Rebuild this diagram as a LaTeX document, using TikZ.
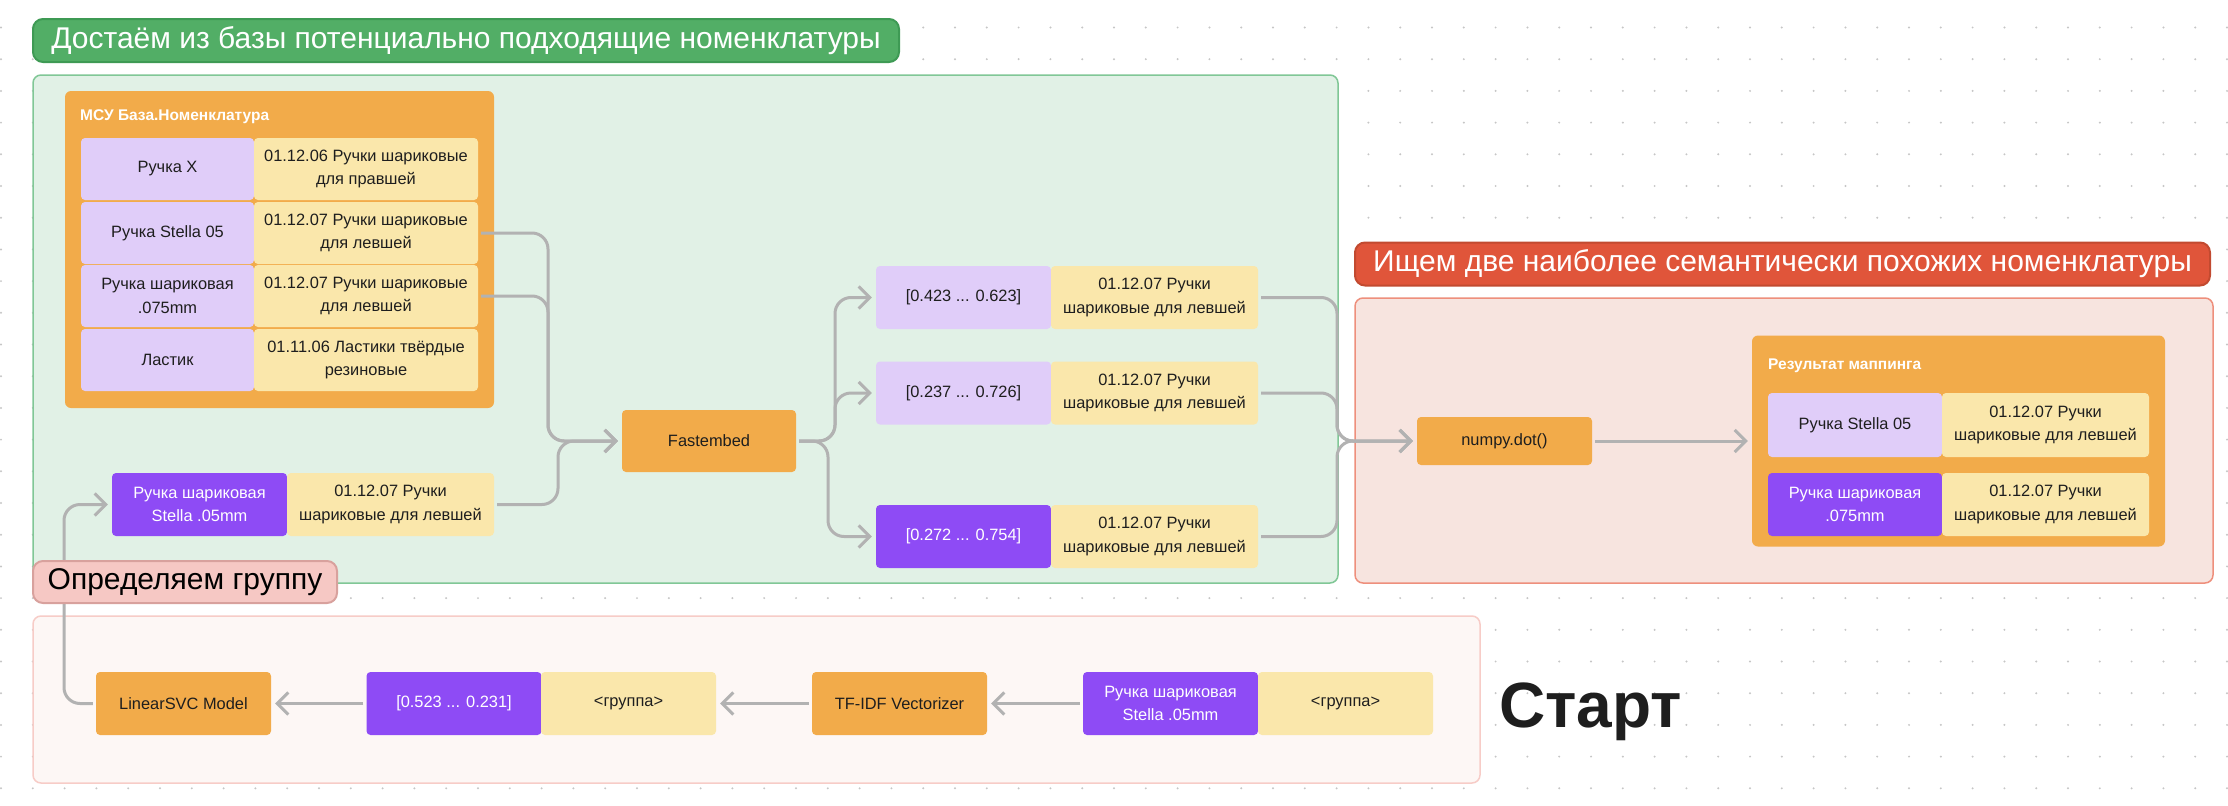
\documentclass[tikz,border=0pt]{standalone}
\usepackage{fontspec}
\setmainfont{Liberation Sans}
\usetikzlibrary{arrows.meta}

\definecolor{ora}{HTML}{F2AB4A}
\definecolor{lil}{HTML}{E0CDF9}
\definecolor{yel}{HTML}{FAE7AB}
\definecolor{pur}{HTML}{8E4BF5}
\definecolor{grn}{HTML}{52AE66}
\definecolor{grnd}{HTML}{3E9A54}
\definecolor{grnbg}{HTML}{E1F1E6}
\definecolor{grnln}{HTML}{80C796}
\definecolor{rd}{HTML}{E0553A}
\definecolor{rdd}{HTML}{C24A30}
\definecolor{rdbg}{HTML}{F7E4DF}
\definecolor{rdln}{HTML}{EE8F7C}
\definecolor{pnk}{HTML}{F6C8C4}
\definecolor{pnkd}{HTML}{D8A19D}
\definecolor{botbg}{HTML}{FDF7F5}
\definecolor{botln}{HTML}{F7CCC7}
\definecolor{arr}{HTML}{B2B2B2}
\definecolor{ink}{HTML}{1E1E1E}

\begin{document}
\begin{tikzpicture}[x=1pt,y=-1pt,
  every node/.style={font=\fontsize{16.4}{23.5}\selectfont, text=ink, inner sep=0pt, align=center},
  cell/.style={minimum width=175pt, minimum height=63pt, rounded corners=4pt},
  lilbox/.style={cell, fill=lil},
  yelbox/.style={cell, fill=yel},
  purbox/.style={cell, fill=pur, text=white},
  orabox/.style={cell, fill=ora},
  box/.style={fill=ora, rounded corners=6pt},
  banner/.style={rounded corners=10pt, line width=2pt, text=white, minimum height=43pt,
    font=\fontsize{30}{36}\selectfont},
  title/.style={anchor=west, text=white, font=\bfseries\fontsize{15.5}{18}\selectfont},
  flow/.style={draw=arr, line width=3pt, rounded corners=16pt, shorten <=3pt, shorten >=4pt,
    -{Straight Barb[length=11pt,width=22pt]}},
]
\useasboundingbox (0,0) rectangle (2228,806);
\fill[white] (0,0) rectangle (2228,806);
\foreach \i in {0,...,70}
  \foreach \j in {0,...,24}
    \fill[gray!45] (1+31.8*\i,27.5+31.7*\j) circle (1.1pt);

% areas
\draw[fill=grnbg, draw=grnln, line width=1.5pt, rounded corners=8pt] (33,75) rectangle (1338,583);
\draw[fill=rdbg, draw=rdln, line width=1.5pt, rounded corners=8pt] (1355,298) rectangle (2213,583);
\draw[fill=botbg, draw=botln, line width=1.5pt, rounded corners=8pt] (33,616) rectangle (1480,783);

\node[banner, fill=grn, draw=grnd, minimum width=866pt] (gt) at (466,40.5) {Достаём из базы потенциально подходящие номенклатуры};
\node[banner, fill=rd, draw=rdd, minimum width=855pt] (rt) at (1782.5,264) {Ищем две наиболее семантически похожих номенклатуры};

% base
\node[box, minimum width=429pt, minimum height=317pt] (m) at (279.5,249.5) {};
\node[title] (mt) at (80,117) {МСУ База.Номенклатура};
\node[lilbox, minimum width=173pt, minimum height=62pt] (m1) at (167.5,169) {Ручка X};
\node[yelbox, minimum width=224pt, minimum height=62pt] (m1c) at (366,169) {01.12.06 Ручки шариковые\\для правшей};
\node[lilbox, minimum width=173pt, minimum height=62pt] (m2) at (167.5,233) {Ручка Stella 05};
\node[yelbox, minimum width=224pt, minimum height=62pt] (m2c) at (366,233) {01.12.07 Ручки шариковые\\для левшей};
\node[lilbox, minimum width=173pt, minimum height=62pt] (m3) at (167.5,296) {Ручка шариковая\\.075mm};
\node[yelbox, minimum width=224pt, minimum height=62pt] (m3c) at (366,296) {01.12.07 Ручки шариковые\\для левшей};
\node[lilbox, minimum width=173pt, minimum height=62pt] (m4) at (167.5,360) {Ластик};
\node[yelbox, minimum width=224pt, minimum height=62pt] (m4c) at (366,360) {01.11.06 Ластики твёрдые\\резиновые};

\node[purbox] (s1) at (199.5,504.5) {Ручка шариковая\\Stella .05mm};
\node[yelbox, minimum width=207pt] (s1c) at (390.5,504.5) {01.12.07 Ручки\\шариковые для левшей};

\node[orabox, minimum width=174pt, minimum height=62pt] (fast) at (709,441) {Fastembed};

\node[lilbox] (v1) at (963.5,297.5) {[0.423 ... 0.623]};
\node[yelbox, minimum width=207pt] (v1c) at (1154.5,297.5) {01.12.07 Ручки\\шариковые для левшей};
\node[lilbox] (v2) at (963.5,393) {[0.237 ... 0.726]};
\node[yelbox, minimum width=207pt] (v2c) at (1154.5,393) {01.12.07 Ручки\\шариковые для левшей};
\node[purbox] (v3) at (963.5,536.5) {[0.272 ... 0.754]};
\node[yelbox, minimum width=207pt] (v3c) at (1154.5,536.5) {01.12.07 Ручки\\шариковые для левшей};

% mapping
\node[orabox, minimum height=48pt] (np) at (1504.5,441) {numpy.dot()};
\node[box, minimum width=413pt, minimum height=211pt] (res) at (1958.5,441) {};
\node[title] (rest) at (1768,366) {Результат маппинга};
\node[lilbox, minimum width=174pt, minimum height=64pt] (r1) at (1855,425) {Ручка Stella 05};
\node[yelbox, minimum width=207pt, minimum height=64pt] (r1c) at (2045.5,425) {01.12.07 Ручки\\шариковые для левшей};
\node[purbox, minimum width=174pt] (r2) at (1855,504.5) {Ручка шариковая\\.075mm};
\node[yelbox, minimum width=207pt] (r2c) at (2045.5,504.5) {01.12.07 Ручки\\шариковые для левшей};

% group
\node[orabox] (svc) at (183.5,703.5) {LinearSVC Model};
\node[purbox] (g) at (454,703.5) {[0.523 ... 0.231]};
\node[yelbox] (gc) at (628.5,703.5) {<группа>};
\node[orabox] (tf) at (899.5,703.5) {TF-IDF Vectorizer};
\node[purbox] (st) at (1170.5,703.5) {Ручка шариковая\\Stella .05mm};
\node[yelbox] (stc) at (1345.5,703.5) {<группа>};
\node[anchor=base west, font=\bfseries\fontsize{64}{70}\selectfont] (go) at (1499,727) {Старт};

\draw[flow] (m2c.east) -| (548,441) -- (fast.west);
\draw[flow] (m3c.east) -| (548,441) -- (fast.west);
\draw[flow] (s1c.east) -| (558,441) -- (fast.west);
\draw[flow] (fast.east) -| (835,297.5) -- (v1.west);
\draw[flow] (fast.east) -| (835,393) -- (v2.west);
\draw[flow] (fast.east) -| (828,536.5) -- (v3.west);
\draw[flow] (v1c.east) -| (1337,441) -- (np.west);
\draw[flow] (v2c.east) -| (1337,441) -- (np.west);
\draw[flow] (v3c.east) -| (1337,441) -- (np.west);
\draw[flow] (np.east) -- (res.west);
\draw[flow] (st.west) -- (tf.east);
\draw[flow] (tf.west) -- (gc.east);
\draw[flow] (g.west) -- (svc.east);
\draw[flow] (svc.west) -| (64,504.5) -- (s1.west);

\node[banner, fill=pnk, draw=pnkd, text=black, minimum width=304pt, minimum height=42pt] (bt) at (185,582) {Определяем группу};
\end{tikzpicture}
\end{document}
